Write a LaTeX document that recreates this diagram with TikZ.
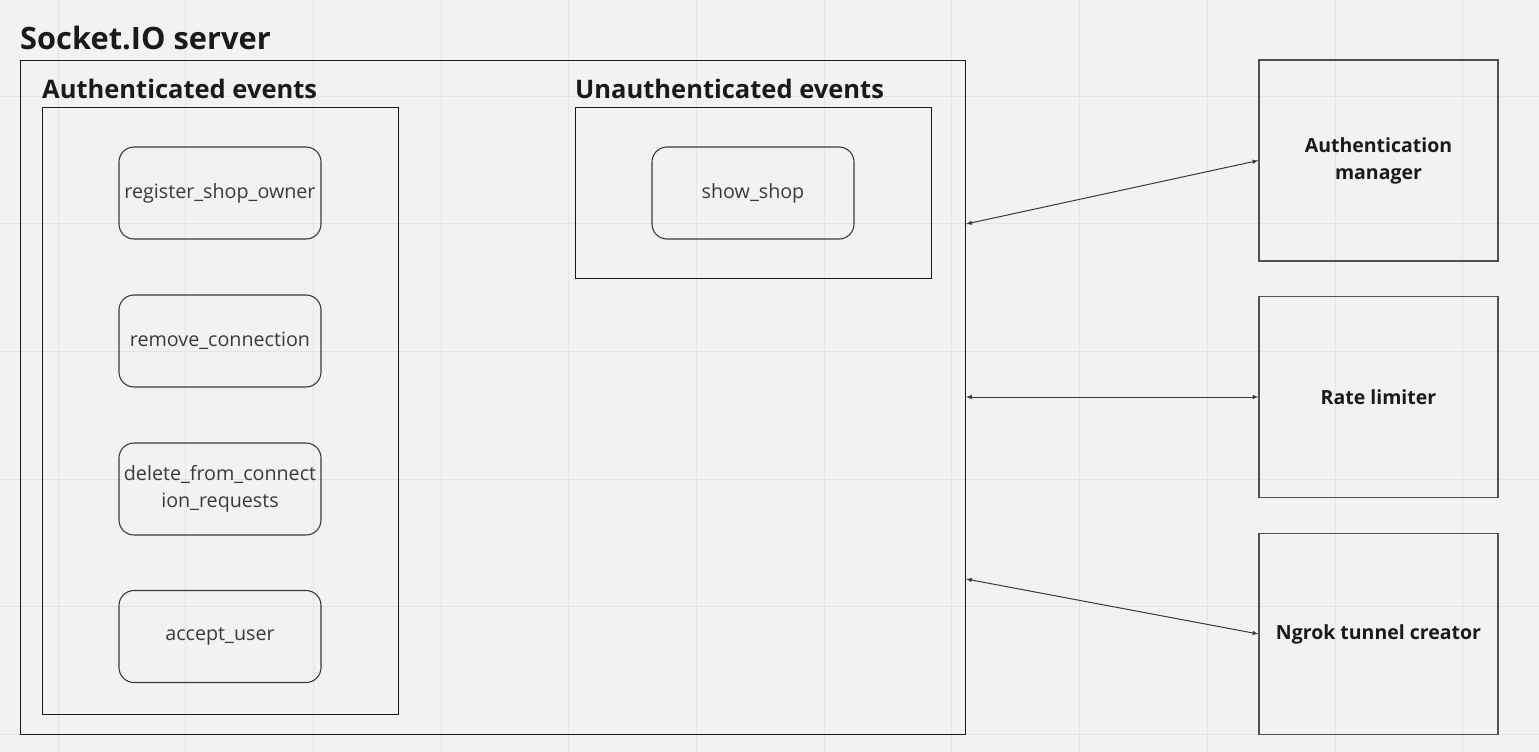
\documentclass[tikz,border=0pt]{standalone}
\usepackage{fontspec}
\setmainfont{Open Sans}
\usepackage{tikz}
\usetikzlibrary{arrows,backgrounds,calc}
\definecolor{canvas}{HTML}{F2F2F2}
\definecolor{gridline}{HTML}{E4E4E4}
\definecolor{ink}{HTML}{1A1A1A}
\definecolor{edge}{HTML}{3A3A3A}
\definecolor{servedge}{HTML}{505050}
\tikzset{
  frame/.style={draw=ink, line width=1.3pt, inner sep=0pt},
  service/.style={draw=servedge, line width=1.2pt, inner sep=0pt, minimum width=239pt, minimum height=201pt,
    align=center, text=ink, font=\fontsize{19.5}{27}\selectfont\bfseries},
  event/.style={draw=edge, line width=1.1pt, rounded corners=15pt, inner sep=0pt, minimum width=202pt,
    minimum height=92pt, align=center, text=edge, font=\fontsize{19.7}{27}\selectfont},
  heading/.style={anchor=base west, inner sep=0pt, text=ink, font=\fontsize{25.5}{30}\selectfont\bfseries},
  link/.style={latex-latex, draw=edge, line width=1pt}
}
\begin{document}
\begin{tikzpicture}[x=1pt,y=-1pt]
\useasboundingbox (0,0) rectangle (1539,752);
\fill[canvas] (0,0) rectangle (1539,752);
\foreach \gx in {0,...,11}
  \draw[gridline, line width=1pt] ({58+127.7*\gx},0) -- ({58+127.7*\gx},752);
\foreach \gy in {0,...,5}
  \draw[gridline, line width=1pt] (0,{96+127.7*\gy}) -- (1539,{96+127.7*\gy});

% server and event groups
\node[heading, font=\fontsize{30.8}{36}\selectfont\bfseries] (servertitle) at (20,50) {Socket.IO server};
\node[frame, anchor=north west, minimum width=945pt, minimum height=674pt] (server) at (20,60) {};
\node[heading] (authtitle) at (42,98) {Authenticated events};
\node[frame, anchor=north west, minimum width=356pt, minimum height=607pt] (authgroup) at (42,107) {};
\node[heading] (unauthtitle) at (575,98) {Unauthenticated events};
\node[frame, anchor=north west, minimum width=356pt, minimum height=171pt] (unauthgroup) at (575,107) {};

% events
\node[event] (register) at (220,193) {register\_shop\_owner};
\node[event] (remove) at (220,341) {remove\_connection};
\node[event] (delete) at (220,489) {delete\_from\_connect\\ion\_requests};
\node[event] (accept) at (220,636.5) {accept\_user};
\node[event] (showshop) at (753,193) {show\_shop};

% services
\node[service] (authmgr) at (1378.5,160.5) {Authentication\\manager};
\node[service] (ratelim) at (1378.5,397) {Rate limiter};
\node[service] (ngrok) at (1378.5,634) {Ngrok tunnel creator};

\coordinate (s1) at (966,224);
\coordinate (s2) at (966,397);
\coordinate (s3) at (966,579);
\draw[link] (s1) -- (authmgr.west);
\draw[link] (s2) -- (ratelim.west);
\draw[link] (s3) -- (ngrok.west);
\end{tikzpicture}
\end{document}
